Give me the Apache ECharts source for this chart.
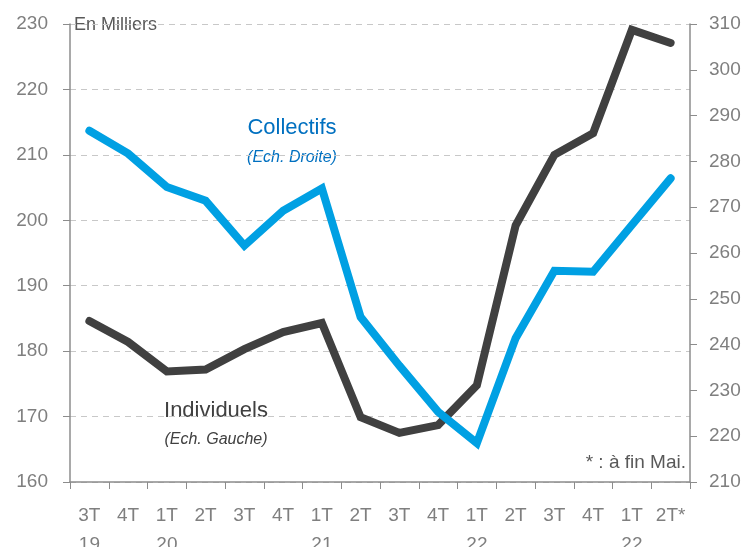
<!DOCTYPE html>
<html lang="fr">
<head>
    <meta charset="UTF-8">
    <title>Individuels / Collectifs</title>
    <script src="https://cdn.jsdelivr.net/npm/echarts@6/dist/echarts.min.js"></script>
    <style>body{margin:0;background:#fff;}</style>
</head>
<body>
    <div id="main" style="width:750px;height:547px;"></div>
    <script>
// trimestres (2e ligne = annee)
var categories = ['3T\n19', '4T', '1T\n20', '2T', '3T', '4T', '1T\n21', '2T', '3T', '4T', '1T\n22', '2T', '3T', '4T', '1T\n22', '2T*'];
// echelle de gauche
var individuels = [184.6, 181.4, 176.9, 177.2, 180.3, 182.9, 184.3, 169.9, 167.5, 168.7, 174.8, 199.2, 210.0, 213.3, 229.1, 227.1];
// echelle de droite
var collectifs = [286.7, 281.7, 274.4, 271.4, 261.6, 269.2, 274.1, 246.0, 235.4, 225.3, 218.5, 241.4, 256.1, 255.9, 266.1, 276.3];
var leftTicks = [160, 230, 10];
var rightTicks = [210, 310, 10];

var grey = '#7f7f7f';
var font = 'Liberation Sans, sans-serif';
var myChart = echarts.init(document.getElementById('main'));

myChart.setOption({
    animation: false,
    grid: {left: 70, right: 60, top: 24, bottom: 65, containLabel: false, outerBoundsMode: 'none'},
    xAxis: {
        type: 'category',
        data: categories,
        boundaryGap: true,
        axisLine: {lineStyle: {color: '#8c8c8c', width: 1.5}},
        axisTick: {show: true, length: 7, lineStyle: {color: '#8c8c8c'}},
        axisLabel: {interval: 0, color: grey, fontSize: 19, fontFamily: font, margin: 19, lineHeight: 29}
    },
    yAxis: [{
        type: 'value',
        min: leftTicks[0], max: leftTicks[1], interval: leftTicks[2],
        axisLine: {show: true, lineStyle: {color: '#8c8c8c', width: 1.5}},
        axisTick: {show: true, inside: false, length: 7, lineStyle: {color: '#8c8c8c'}},
        axisLabel: {color: grey, fontSize: 19, fontFamily: font, margin: 22},
        splitLine: {lineStyle: {color: '#c8c8c8', type: [6, 5], width: 1}}
    }, {
        type: 'value',
        position: 'right',
        min: rightTicks[0], max: rightTicks[1], interval: rightTicks[2],
        axisLine: {show: true, lineStyle: {color: '#8c8c8c', width: 1.5}},
        axisTick: {show: true, length: 7, lineStyle: {color: '#8c8c8c'}},
        axisLabel: {color: grey, fontSize: 19, fontFamily: font, margin: 19},
        splitLine: {show: false}
    }],
    series: [{
        name: 'Collectifs',
        type: 'line',
        yAxisIndex: 1,
        data: collectifs,
        symbol: 'none',
        lineStyle: {color: '#00a0e3', width: 8, cap: 'round', join: 'miter'},
        z: 3
    }, {
        name: 'Individuels',
        type: 'line',
        yAxisIndex: 0,
        data: individuels,
        symbol: 'none',
        lineStyle: {color: '#404040', width: 8, cap: 'round', join: 'miter'},
        z: 2
    }],
    graphic: [
        {type: 'text', x: 74, y: 25, style: {text: 'En Milliers', fill: '#595959', font: '18px ' + font, textVerticalAlign: 'middle'}},
        {type: 'text', x: 292, y: 128, style: {text: 'Collectifs', fill: '#0070c0', font: '22px ' + font, textAlign: 'center', textVerticalAlign: 'middle'}},
        {type: 'text', x: 292, y: 158, style: {text: '(Ech. Droite)', fill: '#0070c0', font: 'italic 16px ' + font, textAlign: 'center', textVerticalAlign: 'middle'}},
        {type: 'text', x: 216, y: 411, style: {text: 'Individuels', fill: '#404040', font: '22px ' + font, textAlign: 'center', textVerticalAlign: 'middle'}},
        {type: 'text', x: 216, y: 440, style: {text: '(Ech. Gauche)', fill: '#404040', font: 'italic 16px ' + font, textAlign: 'center', textVerticalAlign: 'middle'}},
        {type: 'text', x: 686, y: 463, style: {text: '* : à fin Mai.', fill: '#595959', font: '19px ' + font, textAlign: 'right', textVerticalAlign: 'middle'}}
    ]
});
    </script>
</body>
</html>
